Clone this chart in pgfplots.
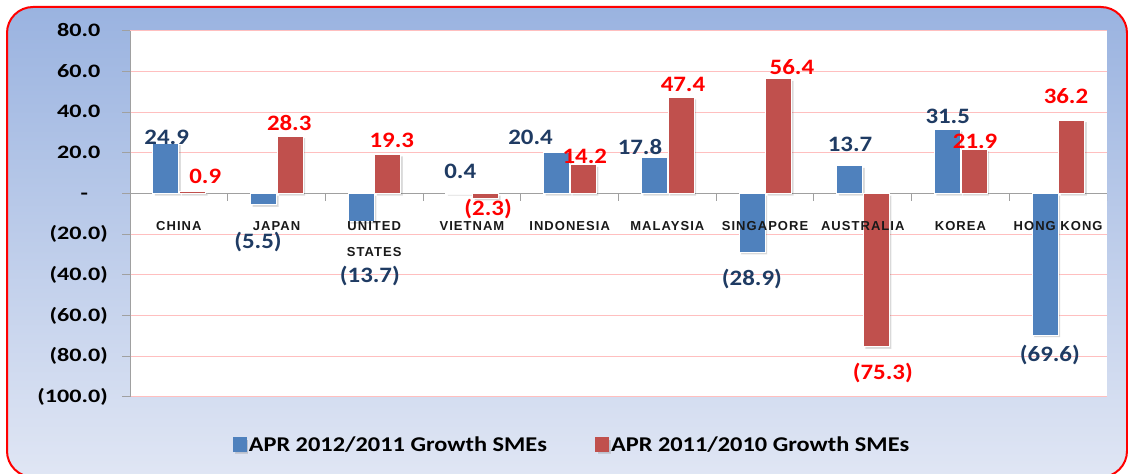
\documentclass[border=0pt]{standalone}
\usepackage{fontspec}
\setmainfont{Carlito}
\newfontfamily\tickfont[FakeStretch=1.27]{Carlito}
\newfontfamily\valfont[FakeStretch=1.13]{Carlito}
\newfontfamily\legfont[FakeStretch=1.16]{Carlito}
\newfontfamily\catfont[LetterSpace=8]{Liberation Sans}
\usepackage{pgfplots}
\pgfplotsset{compat=1.18}
\usepackage{pgfplotstable}

\definecolor{barblue}{HTML}{4F81BD}
\definecolor{barred}{HTML}{C0504D}
\definecolor{labblue}{HTML}{1F3B63}
\definecolor{labred}{HTML}{FF0000}
\definecolor{bgtop}{HTML}{9AB3E0}
\definecolor{bgbot}{HTML}{E0E6F4}
\definecolor{gridpink}{HTML}{FFBFBF}
\definecolor{axisgray}{HTML}{A0A0A0}

% growth of SMEs, two periods
\pgfplotstableread{
x a b
0 24.9 0.9
1 -5.5 28.3
2 -13.7 19.3
3 0.4 -2.3
4 20.4 14.2
5 17.8 47.4
6 -28.9 56.4
7 13.7 -75.3
8 31.5 21.9
9 -69.6 36.2
}\growth

% where the value labels sit
\pgfplotstableread{
x y t
-0.125 27.8 24.9
0.81 -23.8 (5.5)
1.955 -40.6 (13.7)
2.88 11.1 0.4
3.60 27.5 20.4
4.72 22.9 17.8
5.865 -41.8 (28.9)
6.87 24.2 13.7
7.87 38.1 31.5
8.915 -79.5 (69.6)
}\bluelab
\pgfplotstableread{
x y t
0.27 8.6 0.9
1.13 34.7 28.3
2.18 26.0 19.3
3.165 -7.6 (2.3)
4.155 18.3 14.2
5.16 53.6 47.4
6.275 62.2 56.4
7.205 -88.1 (75.3)
8.15 25.9 21.9
9.08 48.0 36.2
}\redlab

% country names, drawn over the bars
\pgfplotstableread[col sep=comma]{
x,y,t
0,-15.8,CHINA
1,-15.8,JAPAN
2,-15.8,UNITED
2,-28.8,STATES
3,-15.8,VIETNAM
4,-15.8,INDONESIA
5,-15.8,MALAYSIA
6,-15.8,SINGAPORE
7,-15.8,AUSTRALIA
8,-15.8,KOREA
9,-15.8,HONG KONG
}\names

\begin{document}
\begin{tikzpicture}
\useasboundingbox (0,0) rectangle (1128pt,474pt);
\fill[white] (0,0) rectangle (1128pt,474pt);
\shade[top color=bgtop, bottom color=bgbot, draw=red, line width=2pt, rounded corners=26pt]
  (7pt,-3pt) rectangle (1127pt,467pt);
\begin{axis}[
    at={(130pt,77pt)}, anchor=south west,
    scale only axis, width=977pt, height=366pt,
    xmin=-0.5, xmax=9.5, ymin=-100, ymax=80,
    axis background/.style={fill=white},
    axis y line*=left, axis x line*=middle,
    axis line style={axisgray, line width=1pt},
    ymajorgrids, grid style={gridpink, line width=1pt},
    ytick={-100,-80,...,80},
    yticklabels={{(100.0)},{(80.0)},{(60.0)},{(40.0)},{(20.0)},{-\phantom{0)}},{20.0\phantom{)}},{40.0\phantom{)}},{60.0\phantom{)}},{80.0\phantom{)}}},
    tick align=outside, major tick length=8pt,
    ytick style={axisgray, line width=1pt},
    yticklabel style={font=\tickfont\fontsize{19}{19}\selectfont\bfseries, anchor=east, inner sep=0pt, xshift=-14pt},
    xtick=\empty,
    legend style={at={(0.105,-0.130)}, anchor=west, legend columns=2, draw=none, fill=none,
      font=\legfont\fontsize{21}{21}\selectfont\bfseries, inner sep=0pt,
      nodes={inner sep=2pt},
      /tikz/every even column/.append style={column sep=46pt}},
    legend cell align=left,
]
\addplot[ybar, bar width=0.266, bar shift=-0.133, fill=barblue, draw=white, line width=1pt,
  preaction={fill=black, opacity=0.15, transform canvas={xshift=2pt, yshift=-2pt}},
  legend image code/.code={\fill[barblue] (0pt,-7pt) rectangle (13pt,7pt);}]
  table[x=x, y=a] {\growth};
\addlegendentry{APR 2012/2011 Growth SMEs}
\addplot[ybar, bar width=0.266, bar shift=0.14, fill=barred, draw=white, line width=1pt,
  preaction={fill=black, opacity=0.15, transform canvas={xshift=2pt, yshift=-2pt}},
  legend image code/.code={\fill[barred] (0pt,-7pt) rectangle (13pt,7pt);}]
  table[x=x, y=b] {\growth};
\addlegendentry{APR 2011/2010 Growth SMEs}

\pgfplotsinvokeforeach{-0.5,0.5,1.5,2.5,3.5,4.5,5.5,6.5,7.5,8.5,9.5}{
  \draw[axisgray, line width=1pt] (axis cs:#1,0) -- ++(0pt,-7pt);
}

\addplot[forget plot, only marks, mark=none, point meta=explicit symbolic, nodes near coords,
  nodes near coords style={anchor=center, inner sep=0pt, text=black!90,
    font=\catfont\fontsize{13}{13}\selectfont\bfseries}]
  table[x=x, y=y, meta=t] {\names};
\addplot[forget plot, only marks, mark=none, point meta=explicit symbolic, nodes near coords,
  nodes near coords style={anchor=center, inner sep=0pt, text=labblue,
    font=\valfont\fontsize{22}{22}\selectfont\bfseries}]
  table[x=x, y=y, meta=t] {\bluelab};
\addplot[forget plot, only marks, mark=none, point meta=explicit symbolic, nodes near coords,
  nodes near coords style={anchor=center, inner sep=0pt, text=labred,
    font=\valfont\fontsize{22}{22}\selectfont\bfseries}]
  table[x=x, y=y, meta=t] {\redlab};
\end{axis}
\end{tikzpicture}
\end{document}
